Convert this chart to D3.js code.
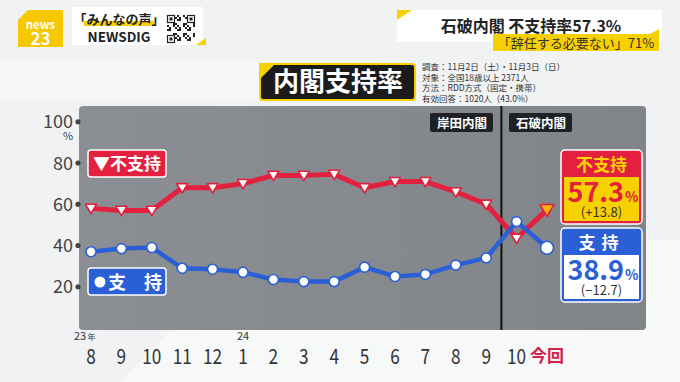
<!DOCTYPE html>
<html><head><meta charset="utf-8">
<script src="https://cdn.jsdelivr.net/npm/d3@7"></script>
<style>
html,body{margin:0;padding:0;background:#f2f3f4;}
svg{display:block;}
text{font-family:"Noto Sans CJK JP","Noto Sans",sans-serif;}
</style></head>
<body>
<script>
const months = ["8","9","10","11","12","1","2","3","4","5","6","7","8","9","10","今回"];
const oppose = [58,57,57,68,68,70,74,74,74.5,68,71,71,66,60,43.5,57.3];
const support = [37,38.5,39,29,28.5,27,23.5,22.5,22.5,29.5,25,26,30.5,34,51.6,38.9];
const yTicks = [20,40,60,80,100];
const surveyLines = ["調査：11月2日（土）・11月3日（日）","対象：全国18歳以上 2371人","方法：RDD方式（固定・携帯）","有効回答：1020人（43.0%）"];

const W=680,H=382;
const svg=d3.select("body").append("svg").attr("width",W).attr("height",H);
const RED="#e3213f", BLUE="#2b5fd8", YEL="#f7d000";

// background
svg.append("rect").attr("width",W).attr("height",H).attr("fill","#f1f2f3");
svg.append("path").attr("d","M120,382 L260,240 L680,240 L680,382 Z").attr("fill","#f7f8f8");
svg.append("path").attr("d","M0,60 L380,60 L380,100 L0,100 Z").attr("fill","#f5f6f6");

const x=d3.scalePoint().domain(d3.range(months.length)).range([91,547]);
const y=d3.scaleLinear().domain([0,100]).range([328,121.75]);

// panel
const grad=svg.append("defs").append("linearGradient").attr("id","pg").attr("x1","0").attr("x2","1");
grad.append("stop").attr("offset","0").attr("stop-color","#8b8e92");
grad.append("stop").attr("offset","1").attr("stop-color","#818488");
svg.append("rect").attr("x",79).attr("y",106).attr("width",567).attr("height",224).attr("rx",4).attr("fill","url(#pg)");

// divider line
const divX=(x(13)+x(14))/2;
svg.append("line").attr("x1",divX).attr("x2",divX).attr("y1",106).attr("y2",330).attr("stroke","#111").attr("stroke-width",2);

// era labels
function tag(cx,label){
  const g=svg.append("g");
  g.append("rect").attr("x",cx-32).attr("y",113).attr("width",63).attr("height",19).attr("rx",2).attr("fill","#1e2226");
  g.append("text").attr("x",cx).attr("y",127.5).attr("text-anchor","middle").attr("fill","#fff").attr("font-size",12.5).attr("font-weight","bold").text(label);
}
tag(462,"岸田内閣"); tag(541,"石破内閣");

// y axis
const ya=svg.append("g");
yTicks.forEach(t=>{
  ya.append("circle").attr("cx",78).attr("cy",y(t)).attr("r",2.6).attr("fill","#444");
  ya.append("text").attr("x",73).attr("y",y(t)+6.5).attr("text-anchor","end").attr("font-size",18).attr("fill","#444").attr("font-family","Noto Sans").text(t);
});
ya.append("text").attr("x",68).attr("y",140).attr("text-anchor","middle").attr("font-size",11).attr("fill","#444").text("%");

// x axis labels
months.forEach((m,i)=>{
  if(i===months.length-1){
    svg.append("text").attr("x",x(i)).attr("y",362).attr("text-anchor","middle").attr("font-size",17).attr("font-weight","bold").attr("fill","#d4204a").text(m);
  } else {
    svg.append("text").attr("transform",`translate(${x(i)},364) scale(0.82,1)`).attr("text-anchor","middle").attr("font-size",21).attr("fill","#333").attr("font-family","Noto Sans").text(m);
  }
});
svg.append("text").attr("x",x(0)-17).attr("y",340).attr("font-size",11).attr("fill","#333").attr("font-family","Noto Sans").text("23");
svg.append("text").attr("x",x(0)-3.5).attr("y",340).attr("font-size",8).attr("fill","#333").text("年");
svg.append("text").attr("x",x(5)).attr("y",340).attr("text-anchor","middle").attr("font-size",11).attr("fill","#333").attr("font-family","Noto Sans").text("24");

// lines
const line=d3.line().x((d,i)=>x(i)).y(d=>y(d));
svg.append("path").datum(oppose).attr("d",line).attr("fill","none").attr("stroke",RED).attr("stroke-width",5).attr("stroke-linejoin","round");
svg.append("path").datum(support).attr("d",line).attr("fill","none").attr("stroke",BLUE).attr("stroke-width",4.5).attr("stroke-linejoin","round");

// markers
function tri(cx,cy,s){return `M${cx-s},${cy-s*0.75} L${cx+s},${cy-s*0.75} L${cx},${cy+s*0.95} Z`;}
oppose.forEach((v,i)=>{
  const last=i===oppose.length-1;
  svg.append("path").attr("d",tri(x(i),y(v),last?7:5.5)).attr("fill",last?"#f8b400":"#fff").attr("stroke",RED).attr("stroke-width",1.6).attr("stroke-linejoin","round");
});
support.forEach((v,i)=>{
  const last=i===support.length-1;
  svg.append("circle").attr("cx",x(i)).attr("cy",y(v)).attr("r",last?6.5:5).attr("fill","#fff").attr("stroke",BLUE).attr("stroke-width",1.6);
});

// legend tags
function legend(yy,fill){
  const g=svg.append("g");
  g.append("rect").attr("x",88).attr("y",yy).attr("width",78).attr("height",27).attr("rx",3).attr("fill",fill).attr("stroke","#fff").attr("stroke-width",1.5);
  return g;
}
const l1=legend(150,RED);
l1.append("text").attr("x",93).attr("y",170).attr("font-size",17).attr("font-weight","bold").attr("fill","#fff").text("▼不支持");
const l2=legend(268,BLUE);
l2.append("circle").attr("cx",100).attr("cy",282).attr("r",5.5).attr("fill","#fff");
l2.append("text").attr("x",108).attr("y",289).attr("font-size",18).attr("font-weight","bold").attr("fill","#fff").text("支　持");

// right result boxes
function resBox(yy,col,head,headCol,bodyFill,val,valCol,diff){
  const g=svg.append("g");
  g.append("rect").attr("x",561).attr("y",yy).attr("width",81).attr("height",74).attr("rx",4).attr("fill",col).attr("stroke","#fff").attr("stroke-width",1.5);
  g.append("rect").attr("x",564).attr("y",yy+27).attr("width",75).attr("height",44).attr("fill",bodyFill);
  g.append("text").attr("x",601.5).attr("y",yy+21).attr("text-anchor","middle").attr("font-size",17).attr("font-weight","bold").attr("fill",headCol).attr("letter-spacing",head.length<3?"6px":"0").text(head);
  const t=g.append("text").attr("x",603).attr("y",yy+52).attr("text-anchor","middle").attr("fill",valCol).attr("font-family","Noto Sans").attr("font-weight","600");
  t.append("tspan").attr("font-size",27).text(val);
  t.append("tspan").attr("font-size",14).attr("dx",1).text("%");
  g.append("text").attr("x",601.5).attr("y",yy+67).attr("text-anchor","middle").attr("font-size",13).attr("fill","#333").attr("font-family","Noto Sans").text(diff);
}
resBox(150,RED,"不支持","#ffd400",YEL,oppose[oppose.length-1].toFixed(1),RED,"(+13.8)");
resBox(228,BLUE,"支持","#fff","#fff",support[support.length-1].toFixed(1),BLUE,"(−12.7)");

// title
svg.append("rect").attr("x",260).attr("y",64).attr("width",155).attr("height",36).attr("rx",3).attr("fill","#1b1b1b").attr("stroke",YEL).attr("stroke-width",2);
svg.append("path").attr("d","M259,63 L276,63 L259,80 Z").attr("fill",YEL);
svg.append("text").attr("x",338).attr("y",91).attr("text-anchor","middle").attr("font-size",26).attr("font-weight","bold").attr("fill","#fff").text("内閣支持率");

// survey info
surveyLines.forEach((s,i)=>{
  svg.append("text").attr("x",422).attr("y",70+i*10.7).attr("font-size",8.5).attr("fill","#333").text(s);
});

// top-right header
svg.append("rect").attr("x",397).attr("y",10).attr("width",265).attr("height",32).attr("fill","#fff");
svg.append("path").attr("d","M397,10 L412,10 L397,20 Z").attr("fill",YEL);
svg.append("text").attr("x",531).attr("y",32).attr("text-anchor","middle").attr("font-size",16).attr("font-weight","bold").attr("fill","#222").text("石破内閣 不支持率57.3%");
svg.append("rect").attr("x",493).attr("y",34).attr("width",166).attr("height",17).attr("fill",YEL);
svg.append("path").attr("d","M650,34 L659,34 L659,29 Z").attr("fill",YEL);
svg.append("text").attr("x",576).attr("y",48).attr("text-anchor","middle").attr("font-size",13).attr("fill","#333").text("「辞任する必要ない」71%");

// top-left logo
svg.append("path").attr("d","M28,10 L63,10 L63,47 L18,47 L18,20 Z").attr("fill","#f5c800");
svg.append("text").attr("x",40.5).attr("y",29).attr("text-anchor","middle").attr("font-size",11.5).attr("font-weight","bold").attr("fill","#fff").attr("font-family","Noto Sans").text("news");
svg.append("text").attr("x",40.5).attr("y",45).attr("text-anchor","middle").attr("font-size",17).attr("font-weight","bold").attr("fill","#fff").attr("font-family","Noto Sans").text("23");
svg.append("rect").attr("x",72).attr("y",7).attr("width",131).attr("height",38).attr("fill","#fff");
svg.append("rect").attr("x",84).attr("y",21).attr("width",70).attr("height",5).attr("fill",YEL);
svg.append("text").attr("x",119).attr("y",24).attr("text-anchor","middle").attr("font-size",13).attr("font-weight","bold").attr("fill","#222").text("「みんなの声」");
svg.append("text").attr("x",119).attr("y",42).attr("text-anchor","middle").attr("font-size",13.5).attr("font-weight","bold").attr("fill","#222").attr("font-family","Noto Sans").text("NEWSDIG");
svg.append("path").attr("d","M196,45 L206,38 L206,45 Z").attr("fill",YEL);
// QR
const qr=svg.append("g").attr("transform","translate(167,15)");
qr.append("rect").attr("width",28).attr("height",28).attr("fill","#fff");
for(let i=0;i<14;i++)for(let j=0;j<14;j++){
  if(((i*7+j*13+i*j)%5)<2) qr.append("rect").attr("x",i*2).attr("y",j*2).attr("width",2).attr("height",2).attr("fill","#222");
}
[[0,0],[20,0],[0,20]].forEach(([a,b])=>{
  qr.append("rect").attr("x",a+0.5).attr("y",b+0.5).attr("width",7).attr("height",7).attr("fill","#fff").attr("stroke","#222").attr("stroke-width",1.2);
  qr.append("rect").attr("x",a+2.5).attr("y",b+2.5).attr("width",3).attr("height",3).attr("fill","#222");
});
</script>
</body></html>
